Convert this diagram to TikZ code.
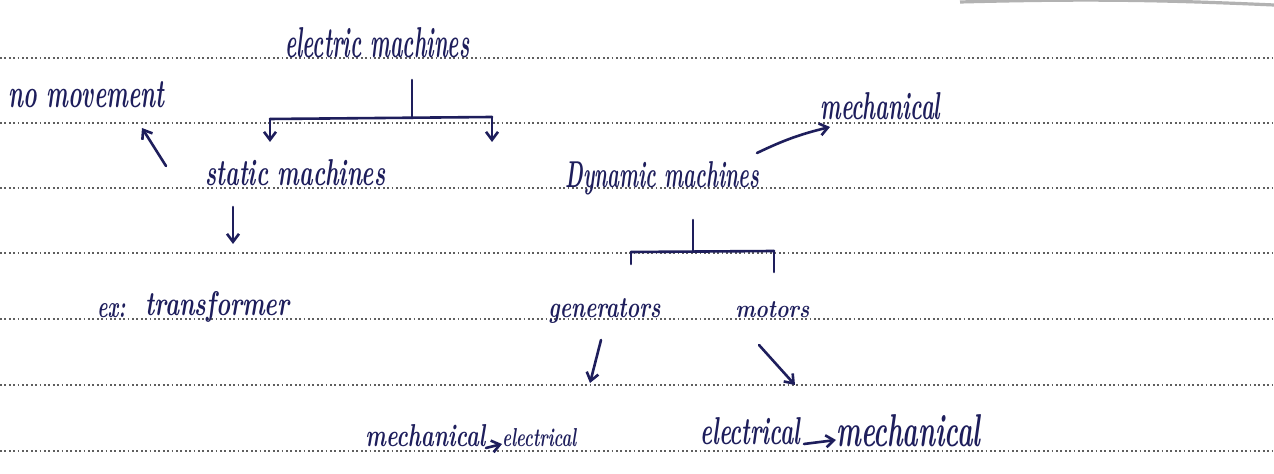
\documentclass[tikz,border=0pt]{standalone}
\usetikzlibrary{arrows.meta}
\definecolor{ink}{RGB}{30,30,92}
\definecolor{rulegray}{RGB}{95,95,95}
\newcommand{\hw}[3]{\resizebox{#1}{#2}{\bfseries\itshape #3}}
\begin{document}
\begin{tikzpicture}[x=0.5pt,y=-0.5pt,
  txt/.style={anchor=base west,inner sep=0pt,text=ink},
  con/.style={draw=ink,line width=1.3pt,line cap=round,line join=round},
  arr/.style={con,-{Straight Barb[length=4pt,width=6pt]}},
  ruled/.style={draw=rulegray,line width=0.9pt,dash pattern=on 0.9pt off 1.3pt}]
\useasboundingbox (0,0) rectangle (1274,474);
\fill[white] (0,0) rectangle (1274,474);
\foreach \y in {58,123,188,253,319,385,451} \draw[ruled] (0,\y) -- (1274,\y);
\draw[gray!60,line width=1.6pt] (960,2) to[bend left=2] (1274,5);
% texts
\node[txt] (em) at (285,58) {\hw{92pt}{15pt}{electric machines}};
\node[txt] (nm) at (8,108) {\hw{78pt}{13pt}{no movement}};
\node[txt] (mech1) at (820,120) {\hw{60pt}{13.5pt}{mechanical}};
\node[txt] (sm) at (205,186) {\hw{90pt}{13pt}{static machines}};
\node[txt] (dm) at (565,188) {\hw{97pt}{13pt}{Dynamic machines}};
\node[txt] (ex) at (97,318) {\hw{14pt}{7pt}{ex:}};
\node[txt] (tr) at (145,316) {\hw{72pt}{12pt}{transformer}};
\node[txt] (gen) at (548,318) {\hw{56pt}{9.5pt}{generators}};
\node[txt] (mot) at (735,318) {\hw{37pt}{8pt}{motors}};
\node[txt] (mech2) at (365,447) {\hw{60pt}{11pt}{mechanical}};
\node[txt] (el1) at (502,447) {\hw{37pt}{9pt}{electrical}};
\node[txt] (el2) at (700,445) {\hw{50pt}{13.5pt}{electrical}};
\node[txt] (mech3) at (836,447) {\hw{72pt}{16pt}{mechanical}};
% bracket under electric machines
\coordinate (j0) at (412,80);
\coordinate (j1) at (412,118);
\coordinate (l1) at (270,119);
\coordinate (r1) at (492,117);
\coordinate (la) at (270,142);
\coordinate (ra) at (492,142);
\draw[con] (j0) -- (j1);
\draw[con] (l1) -- (r1);
\draw[arr] (l1) -- (la);
\draw[arr] (r1) -- (ra);
% static -> no movement
\coordinate (nms) at (166,166);
\coordinate (nme) at (142,128);
\draw[arr] (nms) -- (nme);
% dynamic -> mechanical
\coordinate (dms) at (757,153);
\coordinate (dme) at (830,127);
\draw[arr] (dms) to[bend left=6] (dme);
% static -> transformer
\coordinate (sts) at (233,207);
\coordinate (ste) at (233,244);
\draw[arr] (sts) -- (ste);
% bracket under dynamic machines
\coordinate (k0) at (693,220);
\coordinate (k1) at (693,251);
\coordinate (kl) at (631,252);
\coordinate (kr) at (774,251);
\coordinate (klt) at (631,264);
\coordinate (krt) at (774,272);
\draw[con] (k0) -- (k1);
\draw[con] (kl) -- (kr);
\draw[con] (kl) -- (klt);
\draw[con] (kr) -- (krt);
% generators / motors arrows
\coordinate (gs) at (601,340);
\coordinate (ge) at (590,383);
\draw[arr] (gs) -- (ge);
\coordinate (ms) at (759,345);
\coordinate (me) at (795,385);
\draw[arr] (ms) -- (me);
% bottom arrows
\coordinate (b1s) at (486,448);
\coordinate (b1e) at (502,444);
\draw[arr] (b1s) -- (b1e);
\coordinate (b2s) at (804,444);
\coordinate (b2e) at (836,440);
\draw[arr] (b2s) -- (b2e);
\end{tikzpicture}
\end{document}
